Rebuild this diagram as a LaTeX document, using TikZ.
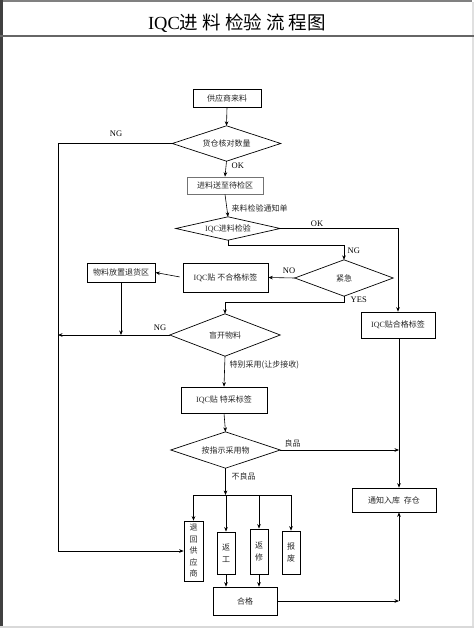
\documentclass[tikz,border=0pt]{standalone}
\usepackage{fontspec}
\setmainfont{Liberation Serif}
\newfontfamily\cjk{Noto Sans CJK SC}
\usetikzlibrary{arrows.meta}
\newcommand\iqc{{\rmfamily IQC}}
\begin{document}
\begin{tikzpicture}[x=1pt,y=-1pt,
  box/.style={draw, line width=0.7pt, inner sep=0pt, text=black!85, font=\cjk\fontsize{8}{9}\selectfont},
  tbox/.style={box, line width=0.95pt},
  gbox/.style={box, draw=black!55},
  vbox/.style={box, align=center, font=\cjk\fontsize{8}{11.5}\selectfont},
  dia/.style={inner sep=0pt, text=black!85, font=\cjk\fontsize{8}{9}\selectfont},
  dline/.style={line width=0.7pt},
  arr/.style={-{Stealth[length=4.5pt,width=3.6pt]}, line width=0.6pt},
  ln/.style={line width=0.6pt},
  lab/.style={font=\fontsize{8.5}{10}\selectfont, inner sep=0.5pt},
  clab/.style={text=black!85, font=\cjk\fontsize{8}{10}\selectfont, inner sep=0.5pt}]
\useasboundingbox (0,0) rectangle (474,628);
% frame
\fill[black!50] (0,0) rectangle (472,2.2);
\fill[black!75] (0,0) rectangle (2.5,628);
\fill[black!12] (471.5,2.2) rectangle (474,628);
\fill[black!15] (0,625.5) rectangle (474,628);
\draw[black!60, line width=1.2pt] (0,36) -- (474,36);
\node[font=\fontsize{18.5}{20}\selectfont] (title) at (237,23) {IQC{\cjk 进 料 检验 流 程图}};

% nodes
\node[box, minimum width=68pt, minimum height=18pt] (src) at (227,98) {供应商来料};
\node[dia, minimum width=108pt, minimum height=35pt] (d1) at (226.5,143.5) {货仓核对数量};
\node[gbox, minimum width=76pt, minimum height=17pt] (s2) at (225,185.5) {进料送至待检区};
\node[dia, minimum width=104pt, minimum height=23pt] (d2) at (228,228.5) {\iqc 进料检验};
\node[dia, minimum width=98pt, minimum height=36pt] (d3) at (344,278) {紧急};
\node[box, minimum width=85pt, minimum height=29pt] (bng) at (225.5,277.5) {\iqc 贴 不合格标签};
\node[tbox, minimum width=68pt, minimum height=19pt] (bret) at (121,272.5) {物料放置退货区};
\node[dia, minimum width=110pt, minimum height=42pt] (d4) at (225,335) {盲开物料};
\node[box, minimum width=86pt, minimum height=26pt] (btc) at (224,400) {\iqc 贴 特采标签};
\node[dia, minimum width=109pt, minimum height=36pt] (d5) at (225.5,450) {按指示采用物};
\node[box, minimum width=74pt, minimum height=26pt] (bok) at (398,325) {\iqc 贴合格标签};
\node[box, minimum width=84pt, minimum height=24pt] (bst) at (394,500) {通知入库\ \ 存仓};
\node[vbox, minimum width=19pt, minimum height=60pt] (v1) at (193.5,551) {退\\回\\供\\应\\商};
\node[vbox, line width=0.95pt, minimum width=18pt, minimum height=42pt] (v2) at (226,553) {返\\工};
\node[vbox, line width=0.95pt, minimum width=18pt, minimum height=45pt] (v3) at (259,551.5) {返\\修};
\node[vbox, minimum width=18pt, minimum height=43pt] (v4) at (291,552.5) {报\\废};
\node[box, minimum width=64pt, minimum height=28pt] (hg) at (245,601) {合格};

% diamonds outlines
\foreach \d in {d1,d2,d3,d4,d5}
  \draw[dline] (\d.north) -- (\d.east) -- (\d.south) -- (\d.west) -- cycle;

% helper coordinates
\coordinate (xL) at (58,0);
\coordinate (xR) at (399,0);
\coordinate (yng) at (0,245);
\coordinate (yyes) at (0,302);
\coordinate (bar) at (0,495);
\coordinate (j1) at (121,335);
\coordinate (jL) at (58,335);
\coordinate (jG) at (399,450);
\coordinate (c2) at (399,601);

% connectors
\draw[arr] (src.south) -- (d1.north);
\draw[arr] (d1.west) -| (xL |- v1.west) -- (v1.west);
\node[lab] (lng1) at (116,134) {NG};
\draw[arr] (d1.south) -- (s2.north);
\node[lab, anchor=west] (lok1) at (231,166) {OK};
\draw[arr] (s2.south) -- (d2.north);
\node[clab, anchor=west] (ltz) at (231,208) {来料检验通知单};
\draw[arr] (d2.east) -| (bok.north);
\node[lab] (lok2) at (317,224) {OK};
\draw[arr] (d2.south) -- (d2.south |- yng) -| (d3.north);
\node[lab, anchor=west] (lng2) at (347,251) {NG};
\draw[arr] (d3.west) -- (bng.east);
\node[lab] (lno) at (289,270.5) {NO};
\draw[arr, shorten <=3pt] (bng.west) -- (bret.east);
\draw[arr] (bret.south) -- (j1);
\draw[arr] (d3.south) -- (d3.south |- yyes) -| (d4.north);
\node[lab, anchor=west] (lyes) at (350,300) {YES};
\draw[arr] (d4.west) -- (jL);
\node[lab] (lng3) at (160,328) {NG};
\draw[arr] (d4.south) -- (btc.north);
\node[clab, anchor=west] (ltb) at (229,365) {特别采用(让步接收)};
\draw[arr] (btc.south) -- (d5.north);
\draw[arr] (d5.east) -- (jG);
\node[clab, anchor=west] (llp) at (284,443) {良品};
\draw[arr] (d5.south) -- (d5.south |- bar);
\node[clab, anchor=west] (lbl) at (231,476) {不良品};
\draw[ln] (v1.north |- bar) -- (v4.north |- bar);
\draw[arr] (v1.north |- bar) -- (v1.north);
\draw[arr] (v2.north |- bar) -- (v2.north);
\draw[arr] (v3.north |- bar) -- (v3.north);
\draw[arr] (v4.north |- bar) -- (v4.north);
\draw[arr] (v2.south) -- (v2.south |- hg.north);
\draw[arr] (v3.south) -- (v3.south |- hg.north);
\draw[arr] (hg.east) -- (c2);
\draw[arr] (c2) -- (c2 |- bst.south);
\draw[arr] (bok.south -| xR) -- (xR |- bst.north);
\end{tikzpicture}
\end{document}
